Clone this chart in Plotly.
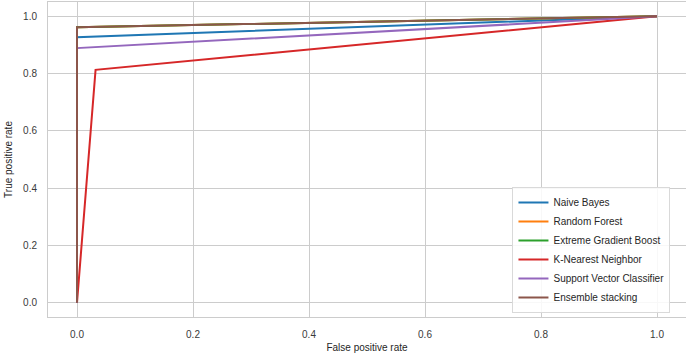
import plotly.graph_objects as go

# ROC curve points
names = ["Naive Bayes", "Random Forest", "Extreme Gradient Boost",
         "K-Nearest Neighbor", "Support Vector Classifier", "Ensemble stacking"]
colors = ["#1f77b4", "#ff7f0e", "#2ca02c", "#d62728", "#9467bd", "#8c564b"]

fpr_nb = [0.0, 0.0, 1.0]
tpr_nb = [0.0, 0.927, 1.0]
fpr_rf = [0.0, 0.0, 1.0]
tpr_rf = [0.0, 0.962, 1.0]
fpr_xgb = [0.0, 0.0, 1.0]
tpr_xgb = [0.0, 0.962, 1.0]
fpr_knn = [0.0, 0.032, 1.0]
tpr_knn = [0.0, 0.813, 1.0]
fpr_svc = [0.0, 0.0, 1.0]
tpr_svc = [0.0, 0.889, 1.0]
fpr_ens = [0.0, 0.0, 1.0]
tpr_ens = [0.0, 0.962, 1.0]

fprs = [fpr_nb, fpr_rf, fpr_xgb, fpr_knn, fpr_svc, fpr_ens]
tprs = [tpr_nb, tpr_rf, tpr_xgb, tpr_knn, tpr_svc, tpr_ens]

tick_vals = [0.0, 0.2, 0.4, 0.6, 0.8, 1.0]
tick_text = ["0.0", "0.2", "0.4", "0.6", "0.8", "1.0"]

fig = go.Figure()
for n, c, x, y in zip(names, colors, fprs, tprs):
    fig.add_trace(go.Scatter(x=x, y=y, mode="lines", name=n,
                             line=dict(color=c, width=2)))

axis_common = dict(
    range=[-0.05, 1.05], tickvals=tick_vals, ticktext=tick_text,
    showgrid=True, gridcolor="#cccccc", gridwidth=1,
    zeroline=False, showline=True, linecolor="#cccccc", linewidth=1,
    mirror=True, ticks="", tickfont=dict(size=10, color="#3a3a3a"),
    ticklabelstandoff=8,
)

fig.update_layout(
    width=686, height=353,
    margin=dict(l=48, r=0, t=2, b=36),
    paper_bgcolor="white", plot_bgcolor="white",
    font=dict(family="Liberation Sans, Arial, sans-serif", size=10, color="#262626"),
    xaxis=dict(**axis_common, title=dict(text="False positive rate", standoff=6,
                                         font=dict(size=10))),
    yaxis=dict(**axis_common, title=dict(text="True positive rate", standoff=8,
                                         font=dict(size=10))),
    legend=dict(x=0.728, y=0.013, xanchor="left", yanchor="bottom",
                bgcolor="rgba(255,255,255,0.85)", bordercolor="#d9d9d9",
                borderwidth=1, font=dict(size=10, color="#262626"),
                tracegroupgap=0),
    showlegend=True,
)

fig.write_html("out.html")
